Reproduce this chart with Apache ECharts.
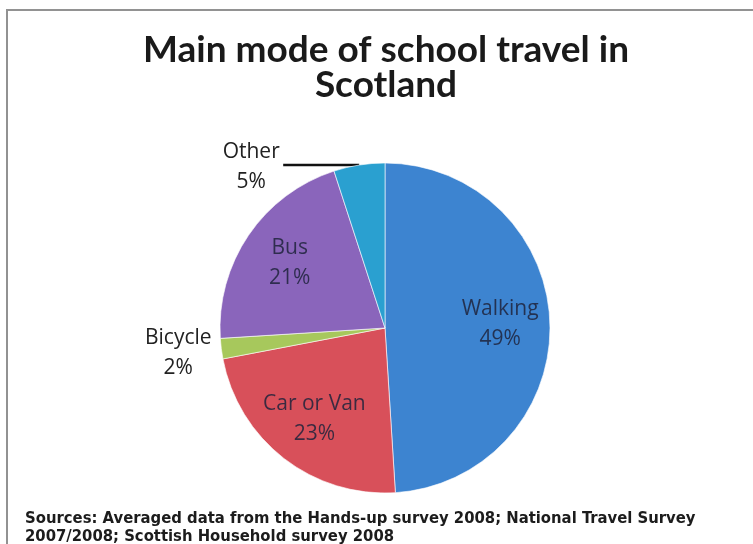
<!DOCTYPE html>
<html>
<head>
<meta charset="utf-8">
<title>Main mode of school travel in Scotland</title>
<script src="https://cdn.jsdelivr.net/npm/echarts@6/dist/echarts.min.js"></script>
<style>
  html, body { margin: 0; padding: 0; background: #fff; }
  #wrap { position: relative; width: 753px; height: 544px; overflow: hidden; }
  #chart { position: absolute; left: 0; top: 0; width: 753px; height: 544px; }
  /* thin grey frame round the chart area (top and left edges) */
  #frame {
    position: absolute; left: 6px; top: 9px; right: -10px; bottom: -10px;
    border-top: 2px solid #929292; border-left: 2px solid #929292;
    pointer-events: none;
  }
</style>
</head>
<body>
<div id="wrap">
  <div id="chart"></div>
  <div id="frame"></div>
</div>
<script>
// Share of pupils by main mode of travel to school (%), clockwise from 12 o'clock
const modes = ['Walking', 'Car or Van', 'Bicycle', 'Bus', 'Other'];
const shares = [49, 23, 2, 21, 5];
const modeColors = ['#3d84d0', '#d8505a', '#a7c85c', '#8a65bb', '#2aa0d0'];
// Small slices carry their label outside the pie
const outsideLabels = ['Bicycle', 'Other'];

const titleText = 'Main mode of school travel in\nScotland';
const sourceText = 'Sources: Averaged data from the Hands-up survey 2008; National Travel Survey\n2007/2008; Scottish Household survey 2008';

const center = [385, 328];
const R = 165;

const labelFont = '"Open Sans", "DejaVu Sans", sans-serif';

// Per-slice tweaks for the outside labels
const outsideLabelStyle = {
  Other: {
    label: { distanceToLabelLine: -1, padding: [4, 0, 0, 0] },
    labelLine: { show: true, length: 0, length2: 76 }
  },
  Bicycle: {
    label: { distanceToLabelLine: 6, padding: [9, 0, 0, 0] },
    labelLine: { show: false, length: 0, length2: 4 }
  }
};

const pieData = modes.map((name, i) => {
  const outside = outsideLabelStyle[name];
  return {
    name: name,
    value: shares[i],
    itemStyle: { color: modeColors[i] },
    label: outside ? outside.label : { show: false },
    labelLine: outside ? outside.labelLine : { show: false }
  };
});

// Transparent ring on top of the pie: carries the in-slice labels
const ringData = modes.map((name, i) => ({
  name: name,
  value: shares[i],
  label: { show: !outsideLabels.includes(name) }
}));

const chart = echarts.init(document.getElementById('chart'), null, { renderer: 'canvas' });

chart.setOption({
  backgroundColor: '#ffffff',
  animation: false,
  title: [
    {
      text: titleText,
      left: 386,
      top: 33,
      padding: 0,
      textAlign: 'center',
      textStyle: {
        fontFamily: 'Lato, "Open Sans", sans-serif',
        fontWeight: 'bold',
        fontSize: 37,
        lineHeight: 35,
        color: '#1a1a1a'
      }
    },
    {
      text: sourceText,
      left: 25,
      top: 510,
      padding: 0,
      textStyle: {
        fontFamily: '"Liberation Sans Narrow", "DejaVu Sans Condensed", "Liberation Sans", sans-serif',
        fontWeight: 'bold',
        fontSize: 16.5,
        lineHeight: 17.5,
        color: '#1c1c1c'
      }
    }
  ],
  series: [
    {
      type: 'pie',
      center: center,
      radius: R,
      startAngle: 90,
      clockwise: true,
      avoidLabelOverlap: false,
      silent: true,
      data: pieData,
      itemStyle: { borderColor: 'rgba(255,255,255,0.6)', borderWidth: 1 },
      label: {
        show: true,
        position: 'outside',
        formatter: p => '{t|' + p.name + '\n' + p.value + '%}',
        rich: {
          t: {
            fontFamily: labelFont,
            fontSize: 21,
            lineHeight: 30,
            color: '#222',
            align: 'center',
            width: 66
          }
        }
      },
      labelLine: {
        lineStyle: { color: '#111', width: 2.5 }
      }
    },
    {
      type: 'pie',
      center: center,
      radius: [R * 0.36, R],
      startAngle: 90,
      clockwise: true,
      silent: true,
      data: ringData,
      itemStyle: { color: 'rgba(0,0,0,0)' },
      label: {
        position: 'inside',
        formatter: p => p.name + '\n' + p.value + '%',
        fontFamily: labelFont,
        fontSize: 21,
        lineHeight: 30,
        color: 'rgba(30,35,60,0.85)'
      },
      labelLine: { show: false }
    }
  ]
});
</script>
</body>
</html>
